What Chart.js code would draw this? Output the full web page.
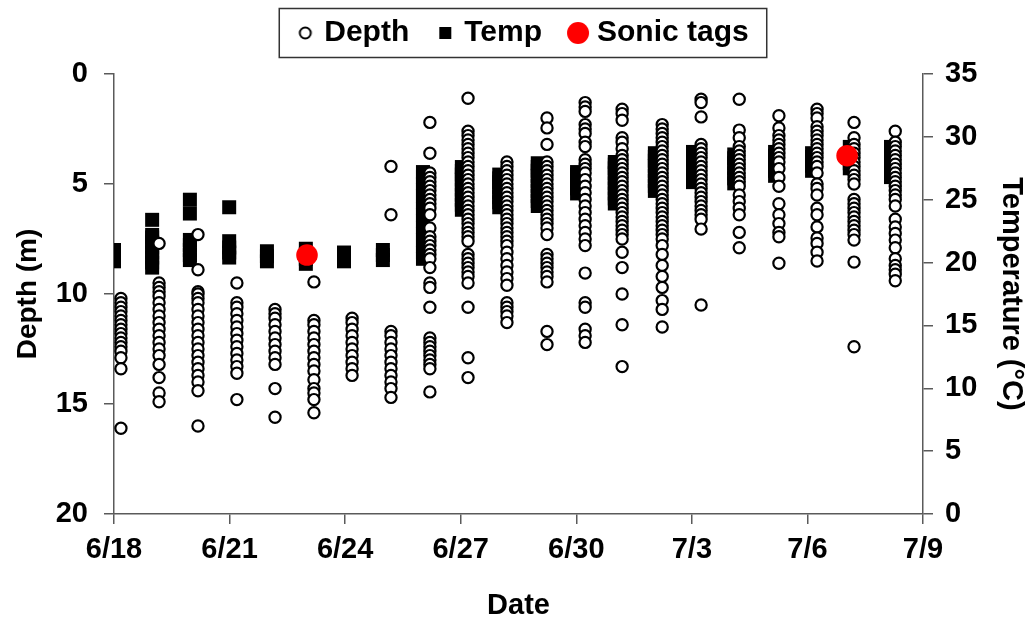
<!DOCTYPE html>
<html>
<head>
<meta charset="utf-8">
<script src="https://cdn.jsdelivr.net/npm/chart.js@4.4.1/dist/chart.umd.min.js"></script>
<style>
  body { margin: 0; background: #fff; }
  #wrap { width: 1028px; height: 623px; position: relative; }
</style>
</head>
<body>
<div id="wrap"><canvas id="my-chart"></canvas></div>
<script>
// x values are days after 6/18
const xTickLabels = ['6/18', '6/21', '6/24', '6/27', '6/30', '7/3', '7/6', '7/9']

const depthDays = [0.18, 1.17, 2.18, 3.19, 4.18, 5.19, 6.18, 7.19, 8.2, 9.19, 10.2, 11.24, 12.23, 13.19, 14.23, 15.24, 16.23, 17.26, 18.25, 19.21, 20.28]
const depthValues = [
    [10.2, 10.4, 10.6, 10.8, 11.0, 11.2, 11.4, 11.6, 11.8, 12.0, 12.2, 12.4, 12.6, 12.9, 13.4, 16.1],
    [7.7, 9.5, 9.7, 9.9, 10.1, 10.4, 10.7, 11.0, 11.3, 11.6, 11.9, 12.2, 12.5, 12.8, 13.2, 13.8, 14.5, 14.9],
    [7.3, 8.9, 9.9, 10.0, 10.2, 10.4, 10.7, 11.0, 11.3, 11.6, 11.9, 12.2, 12.5, 12.8, 13.1, 13.4, 13.7, 14.0, 14.4, 16.0],
    [9.5, 10.4, 10.6, 10.9, 11.2, 11.5, 11.8, 12.1, 12.4, 12.7, 13.0, 13.3, 13.6, 14.8],
    [10.7, 10.9, 11.1, 11.4, 11.7, 12.0, 12.3, 12.6, 12.9, 13.2, 14.3, 15.6],
    [9.45, 11.2, 11.4, 11.7, 12.0, 12.3, 12.6, 12.9, 13.2, 13.5, 13.9, 14.3, 14.5, 14.8, 15.4],
    [11.1, 11.3, 11.6, 11.9, 12.2, 12.5, 12.8, 13.1, 13.4, 13.7],
    [4.2, 6.4, 11.7, 11.9, 12.2, 12.5, 12.8, 13.1, 13.4, 13.7, 14.0, 14.3, 14.7],
    [2.2, 3.6, 4.5, 4.7, 4.9, 5.1, 5.3, 5.5, 5.7, 5.9, 6.1, 6.4, 7.0, 7.4, 7.6, 7.8, 8.0, 8.2, 8.4, 8.8, 9.5, 9.7, 10.6,
     12.0, 12.2, 12.4, 12.6, 12.8, 13.0, 13.2, 13.4, 14.45],
    [1.1, 2.6, 2.8, 3.0, 3.2, 3.4, 3.6, 3.8, 4.0, 4.2, 4.4, 4.6, 4.8, 5.0, 5.2, 5.4, 5.6, 5.8, 6.0, 6.2, 6.4, 6.6, 6.8,
     7.0, 7.2, 7.4, 7.6, 8.2, 8.4, 8.6, 8.8, 9.0, 9.2, 9.5, 10.6, 12.9, 13.8],
    [4.0, 4.2, 4.4, 4.6, 4.8, 5.0, 5.2, 5.4, 5.6, 5.8, 6.0, 6.2, 6.4, 6.6, 6.8, 7.0, 7.2, 7.4, 7.6, 7.8, 8.1, 8.4, 8.7,
     9.0, 9.3, 9.6, 10.4, 10.6, 10.8, 11.0, 11.3],
    [2.0, 2.45, 3.2, 4.0, 4.2, 4.4, 4.6, 4.8, 5.0, 5.2, 5.4, 5.6, 5.8, 6.0, 6.2, 6.4, 6.6, 6.8, 7.0, 7.3, 8.2, 8.4,
     8.6, 8.8, 9.0, 9.2, 9.45, 11.7, 12.3],
    [1.3, 1.5, 1.7, 2.3, 2.5, 2.7, 3.1, 3.3, 3.9, 4.1, 4.3, 4.5, 4.8, 5.1, 5.4, 5.7, 6.0, 6.3, 6.6, 6.9, 7.2, 7.5, 7.8,
     9.05, 10.4, 10.6, 11.6, 11.9, 12.2],
    [1.6, 1.8, 2.1, 2.9, 3.1, 3.4, 3.7, 3.9, 4.1, 4.3, 4.5, 4.7, 4.9, 5.1, 5.3, 5.5, 5.7, 5.9, 6.1, 6.3, 6.5, 6.7, 6.9,
     7.1, 7.3, 7.5, 8.1, 8.8, 10.0, 11.4, 13.3],
    [2.3, 2.5, 2.7, 2.9, 3.1, 3.3, 3.5, 3.7, 3.9, 4.1, 4.3, 4.5, 4.7, 4.9, 5.1, 5.3, 5.5, 5.7, 5.9, 6.1, 6.3, 6.5, 6.7,
     6.9, 7.1, 7.3, 7.5, 7.8, 8.2, 8.7, 9.2, 9.7, 10.3, 10.7, 11.5],
    [1.15, 1.3, 1.95, 3.2, 3.4, 3.6, 3.8, 4.0, 4.2, 4.4, 4.6, 4.8, 5.0, 5.2, 5.4, 5.6, 5.8, 6.0, 6.2, 6.4, 6.6, 7.05, 10.5],
    [1.15, 2.55, 2.9, 3.3, 3.5, 3.7, 3.9, 4.1, 4.3, 4.5, 4.7, 4.9, 5.1, 5.5, 5.8, 6.1, 6.4, 7.2, 7.9],
    [1.9, 2.45, 2.8, 3.0, 3.2, 3.4, 3.6, 3.8, 4.0, 4.3, 4.7, 5.1, 5.9, 6.4, 6.8, 7.2, 7.4, 8.6],
    [1.6, 1.8, 2.0, 2.4, 2.6, 2.8, 3.0, 3.2, 3.4, 3.6, 3.8, 4.0, 4.2, 4.5, 5.0, 5.2, 5.5, 6.1, 6.4, 6.95, 7.45, 7.7,
     8.1, 8.5],
    [2.2, 2.9, 3.2, 3.4, 3.6, 3.8, 4.0, 4.2, 4.4, 4.6, 4.8, 5.0, 5.7, 5.9, 6.1, 6.3, 6.5, 6.7, 6.9, 7.1, 7.3, 7.55,
     8.55, 12.4],
    [2.6, 3.1, 3.3, 3.5, 3.7, 3.9, 4.1, 4.3, 4.5, 4.7, 4.9, 5.1, 5.3, 5.5, 5.7, 6.0, 6.6, 6.95, 7.25, 7.55, 7.9, 8.4,
     8.7, 8.9, 9.1, 9.4]
]

const tempDays = [0, 0.99, 1.97, 2.99, 3.97, 4.98, 5.97, 6.98, 8.02, 9.03, 10.0, 11.0, 12.02, 13.0, 14.04, 15.03, 16.1, 17.16, 18.12, 19.1, 20.17]
const tempValues = [
    [20.1, 20.5, 21.0],
    [19.6, 20.0, 20.4, 20.8, 21.2, 21.6, 22.0, 22.2, 23.4],
    [20.2, 20.6, 21.0, 21.4, 21.8, 23.9, 25.0],
    [20.4, 20.8, 21.2, 21.7, 24.4],
    [20.1, 20.5, 20.9],
    [19.9, 20.3, 20.7, 21.1],
    [20.1, 20.5, 20.8],
    [20.2, 20.6, 21.0],
    [20.3, 20.8, 21.3, 21.8, 22.3, 22.8, 23.3, 23.8, 24.3, 24.8, 25.3, 25.8, 26.3, 26.8, 27.2],
    [24.2, 24.6, 25.0, 25.4, 25.8, 26.2, 26.6, 27.0, 27.3, 27.6],
    [24.4, 24.8, 25.2, 25.6, 26.0, 26.4, 26.7, 27.0],
    [24.5, 24.9, 25.3, 25.7, 26.1, 26.5, 26.9, 27.3, 27.6, 27.9],
    [25.5, 25.9, 26.3, 26.7, 27.0, 27.2],
    [24.7, 25.1, 25.5, 25.9, 26.3, 26.7, 27.1, 27.5, 27.8, 28.0],
    [25.7, 26.1, 26.5, 26.9, 27.3, 27.7, 28.1, 28.4, 28.7],
    [26.4, 26.8, 27.2, 27.6, 28.0, 28.4, 28.8],
    [26.3, 26.7, 27.1, 27.5, 27.9, 28.3, 28.6],
    [26.9, 27.3, 27.7, 28.1, 28.5, 28.8],
    [27.3, 27.7, 28.1, 28.4, 28.7],
    [27.5, 27.9, 28.3, 28.7, 29.2],
    [26.8, 27.2, 27.6, 28.0, 28.4, 28.8, 29.2]
]

const sonicDays = [5.01, 19.03]
const sonicTemps = [20.6, 28.5]

const depthPoints = depthDays.flatMap((x, i) => depthValues[i].map(y => ({ x, y })))
const tempPoints = tempDays.flatMap((x, i) => tempValues[i].map(y => ({ x, y })))
const sonicPoints = sonicDays.map((x, i) => ({ x, y: sonicTemps[i] }))

const FONT = "'Liberation Sans', Arial, sans-serif"
const AXIS = '#5a5a5a'

// small canvases used as legend markers (different sizes like the original)
function marker(kind) {
    const c = document.createElement('canvas')
    c.width = 46; c.height = 30
    const g = c.getContext('2d')
    if (kind === 'circle') {
        g.beginPath(); g.arc(34, 15, 5.5, 0, Math.PI * 2)
        g.fillStyle = '#fff'; g.fill()
        g.lineWidth = 2; g.strokeStyle = '#000'; g.stroke()
    } else if (kind === 'square') {
        g.fillStyle = '#000'; g.fillRect(28, 9, 12, 12)
    } else {
        g.beginPath(); g.arc(34, 15, 11, 0, Math.PI * 2)
        g.fillStyle = '#ff0000'; g.fill()
    }
    return c
}

// border round the legend, plus some room between legend and plot
const legendBox = {
    id: 'legendBox',
    afterInit(chart) {
        const lg = chart.legend
        const fit = lg.fit.bind(lg)
        lg.fit = () => { fit(); lg.height += 16 }
    },
    afterDraw(chart) {
        const hb = chart.legend.legendHitBoxes
        if (!hb || !hb.length) return
        const ctx = chart.ctx
        const first = hb[0], last = hb[hb.length - 1]
        const cy = first.top + first.height / 2
        const left = first.left
        const right = last.left + last.width + 18
        ctx.save()
        ctx.strokeStyle = '#333'
        ctx.lineWidth = 1.5
        ctx.strokeRect(left, cy - 24.5, right - left, 49)
        ctx.restore()
    }
}

const fChartCanva = document.getElementById('my-chart')

const fChart = new Chart(fChartCanva, {
    type: 'scatter',
    data: {
        datasets: [
            {
                label: 'Sonic tags',
                data: sonicPoints,
                yAxisID: 'yT',
                pointStyle: 'circle',
                pointRadius: 10.8,
                borderWidth: 0,
                backgroundColor: '#ff0000',
                order: 0
            },
            {
                label: 'Depth',
                data: depthPoints,
                yAxisID: 'yD',
                pointStyle: 'circle',
                pointRadius: 5.6,
                borderWidth: 2.2,
                borderColor: '#000',
                backgroundColor: '#fff',
                order: 1
            },
            {
                label: 'Temp',
                data: tempPoints,
                yAxisID: 'yT',
                pointStyle: 'rect',
                pointRadius: 9.9,
                borderWidth: 0,
                backgroundColor: '#000',
                order: 2
            }
        ]
    },
    options: {
        responsive: true,
        maintainAspectRatio: false,
        animation: false,
        events: [],
        layout: { padding: { top: 8, left: 0, right: 0, bottom: 0 } },
        plugins: {
            tooltip: { enabled: false },
            legend: {
                position: 'top',
                labels: {
                    usePointStyle: true,
                    pointStyleWidth: 30,
                    padding: 10,
                    color: '#000',
                    font: { family: FONT, size: 30, weight: 'bold' },
                    generateLabels() {
                        return [
                            { text: 'Depth', pointStyle: marker('circle'), lineWidth: 0, fontColor: '#000' },
                            { text: 'Temp', pointStyle: marker('square'), lineWidth: 0, fontColor: '#000' },
                            { text: 'Sonic tags', pointStyle: marker('red'), lineWidth: 0, fontColor: '#000' }
                        ]
                    }
                }
            }
        },
        scales: {
            x: {
                type: 'linear',
                min: 0,
                max: 21,
                ticks: {
                    stepSize: 3,
                    padding: 9,
                    color: '#000',
                    font: { family: FONT, size: 29, weight: 'bold' },
                    callback: (v) => xTickLabels[v / 3]
                },
                grid: { display: true, drawOnChartArea: false, drawTicks: true, tickLength: 10, color: AXIS, lineWidth: 1.5 },
                border: { display: true, color: AXIS, width: 1.5 },
                title: {
                    display: true, text: 'Date', color: '#000',
                    font: { family: FONT, size: 29, weight: 'bold' },
                    padding: { top: 0, bottom: 0 }
                },
                afterFit: (s) => { s.height = 109 }
            },
            yD: {
                type: 'linear',
                position: 'left',
                reverse: true,
                min: 0,
                max: 20,
                ticks: {
                    stepSize: 5,
                    padding: 16,
                    color: '#000',
                    font: { family: FONT, size: 29, weight: 'bold' }
                },
                grid: { display: true, drawOnChartArea: false, drawTicks: true, tickLength: 10, color: AXIS, lineWidth: 1.5 },
                border: { display: true, color: AXIS, width: 1.5 },
                title: {
                    display: true, text: 'Depth (m)', color: '#000',
                    font: { family: FONT, size: 28, weight: 'bold' },
                    padding: { top: 11, bottom: 0 }
                },
                afterFit: (s) => { s.width = 114 }
            },
            yT: {
                type: 'linear',
                position: 'right',
                min: 0,
                max: 35,
                ticks: {
                    stepSize: 5,
                    padding: 12,
                    color: '#000',
                    font: { family: FONT, size: 29, weight: 'bold' }
                },
                grid: { display: true, drawOnChartArea: false, drawTicks: true, tickLength: 10, color: AXIS, lineWidth: 1.5 },
                border: { display: true, color: AXIS, width: 1.5 },
                title: {
                    display: true, text: 'Temperature (°C)', color: '#000',
                    font: { family: FONT, size: 29, weight: 'bold' },
                    padding: { top: 0, bottom: 0 }
                },
                afterFit: (s) => { s.width = 105 }
            }
        }
    },
    plugins: [legendBox]
});
</script>
</body>
</html>
